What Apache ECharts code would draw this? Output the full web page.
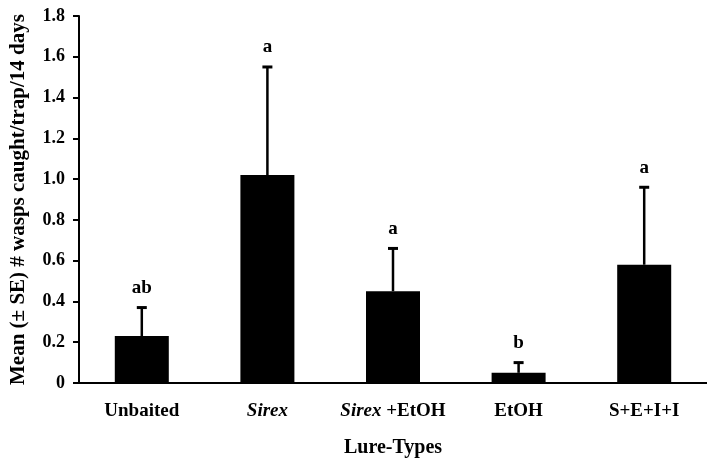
<!DOCTYPE html>
<html>
<head>
<meta charset="utf-8">
<script src="https://cdn.jsdelivr.net/npm/echarts@6/dist/echarts.min.js"></script>
<style>
html, body { margin: 0; background: #fff; }
#chart { width: 707px; height: 463px; }
</style>
</head>
<body>
<div id="chart"></div>
<script>
// values
const lureTypes = ['Unbaited', 'Sirex', 'Sirex +EtOH', 'EtOH', 'S+E+I+I'];
const meanCatch = [0.23, 1.02, 0.45, 0.05, 0.58];
const upperSE = [0.37, 1.55, 0.66, 0.10, 0.96];
const groupLetters = ['ab', 'a', 'a', 'b', 'a'];

const serif = '"Liberation Serif", "DejaVu Serif", serif';

const chart = echarts.init(document.getElementById('chart'));

// error bar + significance letter for each bar
const renderErr = (params, api) => {
  const i = api.value(0);
  const base = api.coord([i, api.value(1)]);
  const top = api.coord([i, api.value(2)]);
  const x = base[0];
  return {
    type: 'group',
    children: [
      { type: 'line', shape: { x1: x, y1: base[1], x2: x, y2: top[1] },
        style: { stroke: '#000', lineWidth: 2.5 } },
      { type: 'line', shape: { x1: x - 5, y1: top[1], x2: x + 5, y2: top[1] },
        style: { stroke: '#000', lineWidth: 3 } },
      { type: 'text', x: x, y: top[1] - 10,
        style: { text: groupLetters[i], fill: '#000', font: 'bold 19px ' + serif,
                 align: 'center', verticalAlign: 'bottom' } }
    ]
  };
};

const option = {
  animation: false,
  grid: { left: 76, right: -6, top: 16, bottom: 80 },
  xAxis: {
    type: 'category',
    data: lureTypes,
    name: 'Lure-Types',
    nameLocation: 'middle',
    nameGap: 55,
    nameTextStyle: { fontFamily: serif, fontWeight: 'bold', fontSize: 20, color: '#000' },
    axisLine: { lineStyle: { color: '#000', width: 2 } },
    axisTick: { length: 6, lineStyle: { color: '#000', width: 2 } },
    axisLabel: {
      interval: 0,
      hideOverlap: false,
      margin: 19,
      fontFamily: serif, fontWeight: 'bold', fontSize: 19, color: '#000',
      formatter: (v) => v.startsWith('Sirex') ? v.replace('Sirex', '{it|Sirex}') : v,
      rich: { it: { fontFamily: serif, fontWeight: 'bold', fontStyle: 'italic', fontSize: 19, color: '#000' } }
    }
  },
  yAxis: {
    type: 'value',
    min: 0,
    max: 1.8,
    interval: 0.2,
    name: 'Mean (± SE) # wasps caught/trap/14 days',
    nameLocation: 'middle',
    nameGap: 50,
    nameTextStyle: { fontFamily: serif, fontWeight: 'bold', fontSize: 21, color: '#000' },
    axisLine: { show: true, lineStyle: { color: '#000', width: 2 } },
    axisTick: { show: true, length: 6, lineStyle: { color: '#000', width: 2 } },
    splitLine: { show: false },
    axisLabel: {
      margin: 14,
      fontFamily: serif, fontWeight: 'bold', fontSize: 18, color: '#000',
      formatter: (v) => v === 0 ? '0' : v.toFixed(1)
    }
  },
  series: [
    {
      type: 'bar',
      data: meanCatch,
      barWidth: 54,
      itemStyle: { color: '#000' }
    },
    {
      type: 'custom',
      renderItem: renderErr,
      data: meanCatch.map((m, i) => [i, m, upperSE[i]]),
      z: 5
    }
  ]
};

chart.setOption(option);
</script>
</body>
</html>
